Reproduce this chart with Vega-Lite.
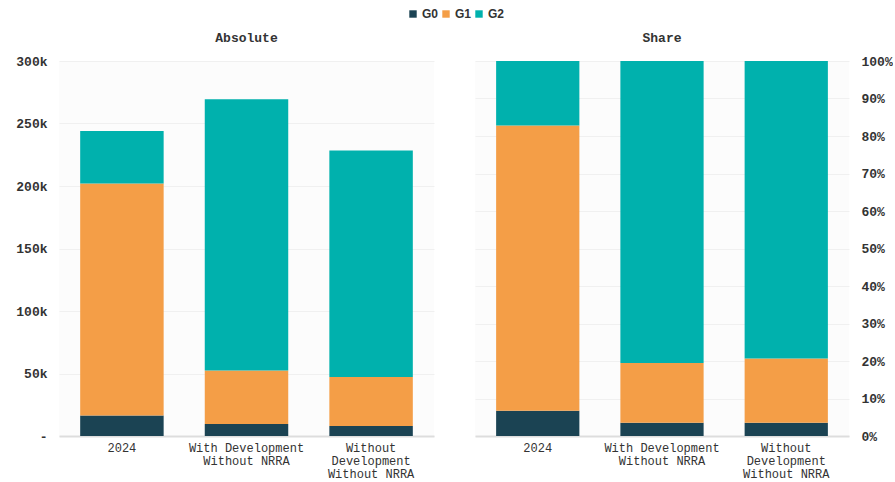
{
  "$schema": "https://vega.github.io/schema/vega-lite/v6.json",
  "padding": {"left": 15, "top": 8, "right": 0, "bottom": 0},
  "background": "#ffffff",
  "data": {
    "values": [
      {"scenario": "2024", "group": "G0", "value": 16500},
      {"scenario": "2024", "group": "G1", "value": 185500},
      {"scenario": "2024", "group": "G2", "value": 42000},
      {"scenario": "With Development Without NRRA", "group": "G0", "value": 9600},
      {"scenario": "With Development Without NRRA", "group": "G1", "value": 42900},
      {"scenario": "With Development Without NRRA", "group": "G2", "value": 216900},
      {"scenario": "Without Development Without NRRA", "group": "G0", "value": 8000},
      {"scenario": "Without Development Without NRRA", "group": "G1", "value": 39200},
      {"scenario": "Without Development Without NRRA", "group": "G2", "value": 181300}
    ]
  },
  "spacing": 41,
  "hconcat": [
    {
      "title": {"text": "Absolute"},
      "width": 375,
      "height": 375,
      "mark": {"type": "bar"},
      "encoding": {
        "x": {
          "field": "scenario", "type": "nominal", "sort": null,
          "scale": {"paddingInner": 0.33, "paddingOuter": 0.17},
          "axis": {
            "title": null, "labelAngle": 0,
            "labelExpr": "datum.value == 'Without Development Without NRRA' ? ['Without','Development','Without NRRA'] : datum.value == 'With Development Without NRRA' ? ['With Development','Without NRRA'] : datum.value"
          }
        },
        "y": {
          "field": "value", "type": "quantitative", "stack": "zero",
          "scale": {"domain": [0, 300000]},
          "axis": {
            "title": null,
            "values": [0, 50000, 100000, 150000, 200000, 250000, 300000],
            "labelExpr": "datum.value == 0 ? '-' : format(datum.value / 1000, 'd') + 'k'"
          }
        },
        "color": {
          "field": "group", "type": "nominal",
          "scale": {"domain": ["G0", "G1", "G2"], "range": ["#1b4353", "#f49e47", "#00b1ad"]},
          "legend": {
            "title": null, "orient": "none", "direction": "horizontal",
            "legendX": 348, "legendY": -53,
            "symbolType": "square", "symbolSize": 55, "columnPadding": 1, "labelOffset": 3
          }
        },
        "order": {"field": "group", "sort": "ascending"}
      }
    },
    {
      "title": {"text": "Share"},
      "width": 374,
      "height": 375,
      "mark": {"type": "bar"},
      "encoding": {
        "x": {
          "field": "scenario", "type": "nominal", "sort": null,
          "scale": {"paddingInner": 0.33, "paddingOuter": 0.17},
          "axis": {
            "title": null, "labelAngle": 0,
            "labelExpr": "datum.value == 'Without Development Without NRRA' ? ['Without','Development','Without NRRA'] : datum.value == 'With Development Without NRRA' ? ['With Development','Without NRRA'] : datum.value"
          }
        },
        "y": {
          "field": "value", "type": "quantitative", "stack": "normalize",
          "scale": {"domain": [0, 1]},
          "axis": {
            "title": null, "orient": "right", "format": ".0%",
            "values": [0, 0.1, 0.2, 0.3, 0.4, 0.5, 0.6, 0.7, 0.8, 0.9, 1.0]
          }
        },
        "color": {"field": "group", "type": "nominal"},
        "order": {"field": "group", "sort": "ascending"}
      }
    }
  ],
  "config": {
    "view": {"fill": "#fcfcfc", "stroke": null},
    "font": "Liberation Mono",
    "title": {"font": "Liberation Mono", "fontSize": 13, "fontWeight": "bold", "color": "#333333", "offset": 10},
    "axis": {
      "labelFont": "Liberation Mono", "labelFontSize": 12, "labelColor": "#333333",
      "ticks": false, "domain": false, "gridColor": "#f0f0f0", "gridWidth": 1
    },
    "axisY": {"labelFontWeight": "bold", "labelFontSize": 13, "labelPadding": 12},
    "axisX": {"grid": false, "domain": true, "domainColor": "#dddddd", "domainWidth": 2, "labelPadding": 6, "labelLineHeight": 13},
    "legend": {"labelFont": "Liberation Sans", "labelFontSize": 12, "labelFontWeight": "bold", "labelColor": "#333333"}
  }
}
